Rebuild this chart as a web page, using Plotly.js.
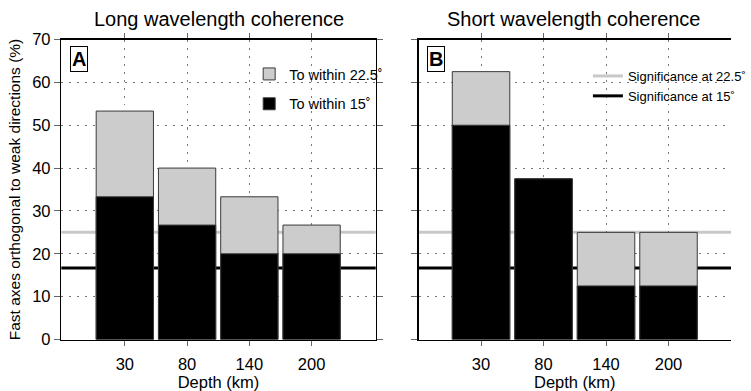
<!DOCTYPE html>
<html>
<head>
<meta charset="utf-8">
<script src="https://cdn.plot.ly/plotly-3.0.1.min.js"></script>
<style>html,body{margin:0;padding:0;background:#fff;}#chart{width:751px;height:391px;}</style>
</head>
<body>
<div id="chart"></div>
<script>
const depths = ['30', '80', '140', '200'];
const longWithin22 = [53.3, 40.0, 33.3, 26.7];
const longWithin15 = [33.3, 26.7, 20.0, 20.0];
const shortWithin22 = [62.5, 37.5, 25.0, 25.0];
const shortWithin15 = [50.0, 37.5, 12.5, 12.5];
const significance22 = 25.0;
const significance15 = 16.7;
const yTickVals = [0, 10, 20, 30, 40, 50, 60, 70];
const panelTitles = ['Long wavelength coherence', 'Short wavelength coherence'];
const panelLabels = ['A', 'B'];

const FONT = 'Liberation Sans, Arial, Helvetica, sans-serif';
const GRAY = '#cccccc';
const EDGE = '#3a3a3a';
const W = 751, H = 391;

function bar(x, y, color, name, xa, ya, show, group) {
  return {
    type: 'bar', x: x, y: y, name: name, xaxis: xa, yaxis: ya,
    width: 0.92, showlegend: show, legend: 'legend', legendgroup: group,
    marker: {color: color, line: {color: EDGE, width: 1}},
    hoverinfo: 'x+y'
  };
}

const traces = [
  bar(depths, longWithin22, GRAY, 'To within 22.5˚', 'x', 'y', true, 'g22'),
  bar(depths, longWithin15, '#000000', 'To within 15˚', 'x', 'y', true, 'g15'),
  bar(depths, shortWithin22, GRAY, 'To within 22.5˚', 'x2', 'y2', false, 'g22'),
  bar(depths, shortWithin15, '#000000', 'To within 15˚', 'x2', 'y2', false, 'g15')
];

const px = v => v / W;
const py = v => (H - v) / H;
const GRID = '#777';
const DASH = '2px,6px';

function xaxisCfg(domain, range, anchor) {
  return {
    domain: domain, anchor: anchor, type: 'category',
    categoryorder: 'array', categoryarray: depths, range: range,
    showline: true, linecolor: '#000', linewidth: 1.5, mirror: 'ticks',
    ticks: 'outside', ticklen: 5, tickcolor: '#666', tickwidth: 1,
    ticklabelstandoff: 4,
    showgrid: true, gridcolor: GRID, gridwidth: 1, griddash: DASH,
    tickfont: {family: FONT, size: 16.5, color: '#000'},
    title: {text: 'Depth (km)', font: {family: FONT, size: 16.5, color: '#000'}, standoff: 6},
    zeroline: false, fixedrange: true
  };
}
function yaxisCfg(anchor, labels, mirror) {
  return {
    anchor: anchor, domain: [py(339.5), py(39.5)], range: [0, 70],
    tickvals: yTickVals, showticklabels: labels,
    showline: true, linecolor: '#000', linewidth: 1.5, mirror: mirror,
    ticks: 'outside', ticklen: 6, tickcolor: '#666', tickwidth: 1,
    showgrid: true, gridcolor: GRID, gridwidth: 1, griddash: DASH,
    tickfont: {family: FONT, size: 16.5, color: '#000'},
    title: labels ? {text: 'Fast axes orthogonal to weak directions (%)', font: {family: FONT, size: 15.5, color: '#000'}, standoff: 7} : {text: ''},
    zeroline: false, fixedrange: true
  };
}

function sigLine(xa, ya, y, color, name, show) {
  return {
    type: 'line', xref: xa + ' domain', yref: ya, x0: 0, x1: 1, y0: y, y1: y,
    layer: 'below', line: {color: color, width: 3},
    showlegend: show, legend: 'legend2', name: name
  };
}

const layout = {
  width: W, height: H,
  margin: {l: 0, r: 0, t: 0, b: 0},
  paper_bgcolor: '#fff', plot_bgcolor: '#fff',
  font: {family: FONT, color: '#000'},
  barmode: 'overlay',
  xaxis: xaxisCfg([px(63), px(386)], [-1.02, 4.03], 'y'),
  yaxis: yaxisCfg('x', true, 'ticks'),
  xaxis2: xaxisCfg([px(430), 1], [-1.0, 4.0], 'y2'),
  yaxis2: yaxisCfg('x2', false, false),
  shapes: [
    sigLine('x', 'y', significance22, '#c8c8c8', 'Significance at 22.5˚', false),
    sigLine('x', 'y', significance15, '#000000', 'Significance at 15˚', false),
    sigLine('x2', 'y2', significance22, '#c8c8c8', 'Significance at 22.5˚', true),
    sigLine('x2', 'y2', significance15, '#000000', 'Significance at 15˚', true)
  ],
  legend: {
    x: px(256), y: py(58), xanchor: 'left', yanchor: 'top',
    bgcolor: 'rgba(0,0,0,0)', borderwidth: 0,
    font: {family: FONT, size: 14.5, color: '#000'},
    traceorder: 'grouped', tracegroupgap: 8, itemwidth: 30
  },
  legend2: {
    x: px(604), y: py(61), xanchor: 'left', yanchor: 'top',
    bgcolor: 'rgba(0,0,0,0)', borderwidth: 0,
    font: {family: FONT, size: 13, color: '#000'},
    traceorder: 'normal', itemwidth: 30
  },
  annotations: [
    {text: panelTitles[0], xref: 'paper', yref: 'paper', x: px(224.5), y: py(19), xanchor: 'center', yanchor: 'middle', showarrow: false, font: {family: FONT, size: 20, color: '#000'}},
    {text: panelTitles[1], xref: 'paper', yref: 'paper', x: px(590), y: py(19), xanchor: 'center', yanchor: 'middle', showarrow: false, font: {family: FONT, size: 20, color: '#000'}},
    {text: '<b>' + panelLabels[0] + '</b>', xref: 'x domain', yref: 'y domain', x: 0.027, y: 0.978, xanchor: 'left', yanchor: 'top', showarrow: false, bordercolor: '#000', borderwidth: 1, borderpad: 1, bgcolor: '#fff', font: {family: FONT, size: 20, color: '#000'}},
    {text: '<b>' + panelLabels[1] + '</b>', xref: 'x2 domain', yref: 'y2 domain', x: 0.027, y: 0.978, xanchor: 'left', yanchor: 'top', showarrow: false, bordercolor: '#000', borderwidth: 1, borderpad: 1, bgcolor: '#fff', font: {family: FONT, size: 20, color: '#000'}}
  ]
};

Plotly.newPlot('chart', traces, layout, {displayModeBar: false, staticPlot: true});
</script>
</body>
</html>
